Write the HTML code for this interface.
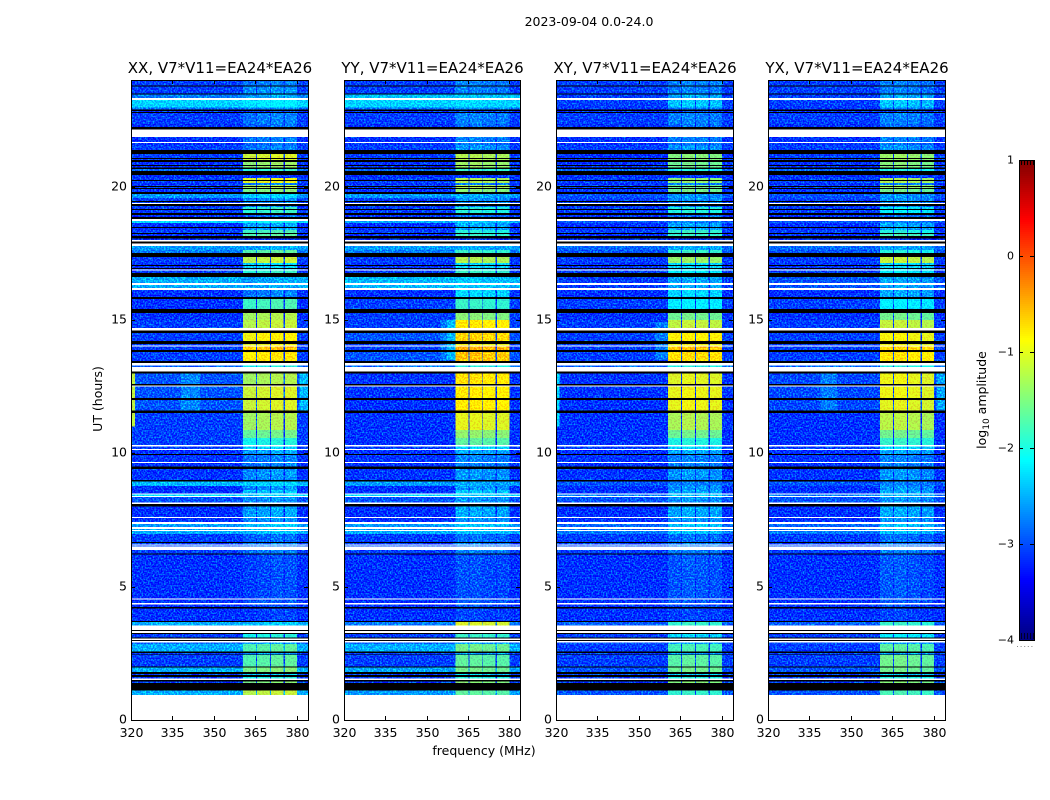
<!DOCTYPE html>
<html lang="en">
<head>
<meta charset="utf-8">
<title>2023-09-04 0.0-24.0</title>
<style>
html,body{margin:0;padding:0;background:#fff;width:1050px;height:800px;overflow:hidden}
svg{display:block;font-family:"DejaVu Sans","Liberation Sans",sans-serif;fill:#000}
text{font-size:12.5px}
</style>
</head>
<body>
<svg id="figure" xmlns="http://www.w3.org/2000/svg" width="1050" height="800" viewBox="0 0 1050 800">
<defs>
<filter id="speckle" x="0" y="0" width="100%" height="100%" color-interpolation-filters="sRGB">
<feColorMatrix in="SourceGraphic" type="matrix" values="1 0 0 0 0  0 1 0 0 -0.17  0 0 1 0 0  0 0 0 1 0" result="s"/>
<feTurbulence type="fractalNoise" baseFrequency="0.62 0.62" numOctaves="1" seed="7" result="n"/>
<feColorMatrix in="n" type="matrix" values="0 0 0 0 0  3 0 0 0 -1.2  0 0 0 0 0  0 0 0 0 1" result="g"/>
<feComposite in="s" in2="g" operator="arithmetic" k1="0" k2="1" k3="0.6" k4="0"/>
</filter>
</defs>
<rect x="0" y="0" width="1050" height="800" fill="#fff"/>
<text x="589" y="26" text-anchor="middle">2023-09-04 0.0-24.0</text>
<text x="484" y="755" text-anchor="middle">frequency (MHz)</text>
<text transform="translate(102,399) rotate(-90)" text-anchor="middle">UT (hours)</text>
<text transform="translate(986,400) rotate(-90)" text-anchor="middle">log<tspan font-size="9" dy="3">10</tspan><tspan dy="-3"> amplitude</tspan></text>
<g id="panels"></g>
<g id="colorbar"></g>
</svg>
<script>
// ---- Chart data ----
const panelNames = ["XX", "YY", "XY", "YX"];
const panelSubtitle = "V7*V11=EA24*EA26";
const xTickValues = [320, 335, 350, 365, 380];
const yTickValues = [0, 5, 10, 15, 20];
const colorbarTicks = [1, 0, -1, -2, -3, -4];
const dataEndHour = 0.94;

// time rows: start (upper) hour and state: D=data, K=black gap, W=white gap
const rowStartHours = [
24.00,23.79,23.76,23.49,23.46,23.33,23.25,22.97,22.89,22.84,
22.80,22.76,22.35,22.24,22.14,21.86,21.68,21.64,21.56,21.38,
21.23,21.00,20.93,20.72,20.66,20.59,20.44,20.33,20.14,20.06,
19.95,19.91,19.80,19.73,19.58,19.39,19.35,19.28,19.24,19.01,
18.94,18.86,18.79,18.71,18.64,18.38,18.26,18.23,18.11,18.06,
18.00,17.94,17.87,17.78,17.63,17.51,17.36,17.14,17.06,17.03,
16.89,16.86,16.76,16.61,16.39,16.31,16.20,16.13,15.86,15.79,
15.41,15.26,15.00,14.70,14.61,14.51,14.21,14.10,14.04,14.00,
13.88,13.80,13.46,13.39,13.29,13.24,13.07,12.99,12.60,12.54,
12.50,12.08,12.00,11.60,11.51,10.88,10.58,10.31,10.25,10.16,
10.13,9.98,9.94,9.68,9.63,9.50,9.42,9.00,8.94,8.78,
8.63,8.49,8.45,8.40,8.36,8.15,8.10,8.00,7.62,7.58,
7.43,7.35,7.24,7.17,7.13,7.08,6.98,6.68,6.63,6.59,
6.54,6.50,6.38,6.25,6.20,4.56,4.52,4.38,4.34,4.23,
4.18,3.71,3.68,3.55,3.38,3.33,3.27,3.23,3.10,3.05,
3.00,2.96,2.90,2.85,2.56,2.52,2.46,2.43,2.00,1.96,
1.80,1.73,1.68,1.62,1.55,1.50,1.44,1.39,1.10];
const rowStates = [
"D","K","D","K","D","W","D","D","K","D",
"K","D","D","K","W","D","W","D","D","K",
"D","K","D","K","D","K","D","D","D","D",
"K","D","K","D","D","W","K","D","D","K",
"D","K","W","D","D","D","K","D","K","D",
"W","K","W","D","D","K","D","D","K","D",
"W","D","K","D","W","D","W","D","K","D",
"K","D","D","W","K","D","K","D","W","D",
"K","D","K","W","D","W","K","D","K","W",
"D","K","D","K","D","D","D","W","D","W",
"D","K","D","W","D","K","D","K","D","D",
"D","W","D","W","D","W","K","D","W","D",
"W","D","W","D","W","D","D","K","D","W",
"D","W","D","K","D","W","D","W","D","K",
"D","K","D","W","K","W","K","D","K","W",
"K","W","D","D","K","D","K","D","K","D",
"K","D","K","D","W","K","D","K","D"];
// thin (one-integration) flagged lines, hours
const thinGapHours = [21.08, 20.81, 20.25, 20.03, 19.46, 19.16, 18.49, 18.15, 16.95];

// log10 amplitude per data row (D rows only, top to bottom)
const xxBackground = [
-3.1,-3.1,-2.8,-2.35,-2.9,-3.3,-3.1,-3.4,-3.2,-3.3,
-3.1,-3.1,-3.2,-2.9,-3.2,-3.1,-3.3,-3.1,-3.2,-2.65,
-3.1,-3.2,-3.1,-3.2,-2.3,-3.2,-3.1,-3.2,-3.3,-2.65,
-2.8,-3.1,-3.3,-3.2,-3.1,-2.55,-2.55,-3.2,-3.2,-3.2,
-3.1,-3.1,-3.1,-3.1,-3.1,-2.9,-3.0,-3.0,-3.0,-3.1,
-3.1,-3.1,-3.1,-3.2,-3.15,-3.2,-3.15,-2.5,-3.2,-3.2,
-2.3,-3.0,-3.2,-3.2,-2.65,-2.65,-2.55,-3.1,-3.1,-3.0,
-3.1,-3.25,-3.2,-3.2,-3.2,-2.55,-3.1,-2.9,-2.55,-3.1,
-3.1,-2.55,-3.1,-3.1,-3.1,-2.55];
const xxBandLevel = [
-2.8,-2.7,-2.6,-2.2,-2.7,-3.1,-2.8,-2.9,-2.8,-2.9,
-2.8,-1.1,-1.4,-1.9,-3.2,-1.0,-2.8,-1.3,-1.5,-2.35,
-2.7,-2.8,-1.9,-2.9,-2.1,-2.6,-1.8,-1.7,-3.2,-2.6,
-1.7,-1.2,-2.35,-2.35,-1.9,-2.6,-2.6,-2.8,-1.8,-1.3,
-1.2,-0.9,-1.0,-0.6,-0.8,-2.0,-1.3,-1.1,-1.1,-1.3,
-1.6,-2.0,-2.35,-2.6,-2.8,-2.8,-2.7,-2.35,-2.7,-2.45,
-2.35,-2.7,-2.6,-2.7,-2.45,-2.45,-2.45,-2.9,-2.8,-2.8,
-2.8,-3.05,-3.0,-3.05,-3.1,-2.45,-2.0,-2.6,-1.7,-2.6,
-1.7,-1.5,-2.35,-2.0,-1.5,-1.2];
const yyBackground = [
-3.1,-3.1,-2.45,-2.35,-2.9,-3.3,-3.1,-3.4,-3.2,-3.3,
-3.1,-3.1,-3.2,-2.9,-3.2,-3.1,-3.3,-3.1,-3.2,-2.65,
-3.1,-3.2,-3.1,-3.2,-2.55,-3.2,-3.1,-3.2,-3.3,-2.65,
-2.8,-3.1,-3.3,-3.2,-3.1,-2.5,-2.5,-3.2,-3.1,-3.1,
-3.1,-3.0,-3.1,-3.1,-3.0,-2.9,-3.15,-3.15,-3.2,-3.2,
-3.2,-3.2,-3.1,-3.2,-3.15,-3.2,-3.15,-2.65,-3.2,-3.2,
-2.3,-3.0,-3.2,-3.2,-2.65,-2.65,-2.55,-3.1,-3.1,-3.0,
-3.1,-3.25,-3.2,-3.2,-3.2,-2.8,-3.1,-2.9,-2.55,-3.1,
-3.1,-2.6,-3.1,-3.1,-3.1,-2.65];
const yyBandLevel = [
-2.8,-2.8,-2.45,-2.35,-2.7,-3.1,-2.8,-2.9,-2.8,-2.9,
-2.7,-1.3,-1.4,-1.9,-3.2,-1.3,-2.8,-1.3,-1.5,-2.6,
-2.7,-2.8,-2.0,-2.9,-2.45,-2.6,-2.0,-1.9,-3.2,-2.6,
-1.9,-1.3,-2.35,-2.35,-1.9,-2.45,-2.45,-2.35,-1.9,-1.5,
-0.85,-0.7,-1.0,-0.5,-0.6,-2.0,-0.8,-0.85,-0.85,-1.05,
-1.45,-1.7,-2.35,-2.6,-2.8,-2.8,-2.7,-2.6,-2.7,-2.45,
-2.35,-2.7,-2.6,-2.7,-2.45,-2.45,-2.45,-2.9,-2.8,-2.8,
-2.8,-3.05,-3.0,-3.05,-3.1,-1.1,-1.9,-2.6,-1.6,-2.6,
-1.7,-1.6,-2.35,-2.0,-1.5,-1.7];
const xyBackground = [
-3.1,-3.1,-3.1,-3.1,-3.2,-3.3,-3.1,-3.4,-3.2,-3.3,
-3.1,-3.2,-3.2,-2.9,-3.2,-3.1,-3.3,-3.1,-3.2,-3.0,
-3.1,-3.2,-3.1,-3.2,-3.0,-3.2,-3.1,-3.2,-3.3,-2.9,
-3.0,-3.1,-3.3,-3.2,-3.1,-3.1,-3.1,-3.2,-3.1,-3.2,
-3.1,-3.1,-3.1,-3.1,-3.1,-2.9,-3.15,-3.15,-3.2,-3.25,
-3.25,-3.25,-3.1,-3.2,-3.15,-3.2,-3.15,-3.0,-3.2,-3.2,
-2.8,-3.0,-3.2,-3.2,-2.9,-2.9,-2.8,-3.1,-3.1,-3.0,
-3.1,-3.25,-3.2,-3.2,-3.2,-2.95,-3.1,-3.0,-3.1,-3.1,
-3.1,-3.0,-3.1,-3.1,-3.1,-3.0];
const xyBandLevel = [
-2.8,-2.8,-2.6,-2.45,-2.8,-3.1,-2.8,-2.9,-2.8,-2.9,
-2.7,-1.5,-1.6,-2.0,-3.2,-1.45,-2.8,-1.6,-1.6,-2.7,
-2.7,-2.8,-2.0,-2.9,-2.8,-2.6,-1.9,-1.9,-3.2,-2.6,
-1.9,-1.4,-2.35,-2.35,-2.2,-2.6,-2.6,-2.35,-2.2,-1.6,
-1.2,-0.9,-1.0,-0.6,-0.75,-2.0,-1.05,-1.0,-1.0,-1.3,
-1.6,-2.0,-2.35,-2.6,-2.8,-2.8,-2.7,-2.8,-2.7,-2.6,
-2.45,-2.7,-2.6,-2.7,-2.45,-2.45,-2.45,-2.9,-2.8,-2.8,
-2.8,-3.0,-3.0,-3.05,-3.1,-1.9,-2.35,-2.6,-1.8,-2.6,
-1.7,-1.6,-2.35,-2.0,-1.5,-1.9];
const yxBackground = [
-3.1,-3.1,-3.1,-3.1,-3.2,-3.3,-3.1,-3.4,-3.2,-3.3,
-3.1,-3.1,-3.2,-2.9,-3.2,-3.1,-3.3,-3.1,-3.2,-3.0,
-3.1,-3.2,-3.1,-3.2,-3.0,-3.2,-3.1,-3.2,-3.3,-2.9,
-3.0,-3.1,-3.3,-3.2,-3.1,-3.0,-3.0,-3.2,-3.1,-3.2,
-3.1,-3.1,-3.1,-3.1,-3.1,-2.9,-3.05,-3.05,-3.05,-3.2,
-3.2,-3.2,-3.1,-3.2,-3.15,-3.2,-3.15,-3.0,-3.2,-3.2,
-2.8,-3.0,-3.2,-3.2,-2.9,-2.9,-2.8,-3.1,-3.1,-3.0,
-3.1,-3.25,-3.2,-3.2,-3.2,-2.95,-3.1,-3.0,-3.1,-3.1,
-3.1,-3.0,-3.1,-3.1,-3.1,-3.0];
const yxBandLevel = [
-2.8,-2.8,-2.6,-2.45,-2.8,-3.1,-2.8,-2.9,-2.8,-2.9,
-2.7,-1.4,-1.5,-2.0,-3.2,-1.3,-2.8,-1.4,-1.6,-2.7,
-2.7,-2.8,-2.2,-2.9,-2.8,-2.6,-2.0,-1.8,-3.2,-2.6,
-2.0,-1.2,-2.35,-2.35,-2.2,-2.6,-2.6,-2.6,-2.2,-1.6,
-1.2,-0.95,-1.0,-0.7,-0.8,-2.0,-1.0,-1.0,-1.05,-1.25,
-1.6,-1.9,-2.35,-2.6,-2.8,-2.8,-2.7,-2.8,-2.7,-2.6,
-2.45,-2.7,-2.6,-2.7,-2.45,-2.45,-2.45,-2.9,-2.8,-2.8,
-2.8,-3.0,-3.0,-3.05,-3.1,-1.9,-2.2,-2.6,-1.7,-2.6,
-1.6,-1.6,-2.35,-2.0,-1.5,-1.8];

// receiver sub-bands in MHz and per-panel level offsets
const bandStartMHz = [360.5, 365.6, 370.6, 375.6];
const bandEndMHz = [365.2, 370.3, 375.1, 380.1];
const xxBandOffsets = [-0.05, 0, 0.05, 0.05];
const yyBandOffsets = [0.05, 0.05, 0, 0];
const xyBandOffsets = [0, 0.05, 0.03, 0];
const yxBandOffsets = [0.03, 0.05, 0, -0.05];

// localised features: start MHz, end MHz, top hour, bottom hour, level
const xxPatchStartMHz = [320.3, 338, 381];
const xxPatchEndMHz = [321.5, 345, 384];
const xxPatchTopHour = [13, 13, 13];
const xxPatchBottomHour = [11, 11.6, 11.6];
const xxPatchLevel = [-1.2, -2.75, -2.5];
const yyPatchStartMHz = [355, 357.5];
const yyPatchEndMHz = [360.5, 360.5];
const yyPatchTopHour = [15, 15];
const yyPatchBottomHour = [13.5, 13.5];
const yyPatchLevel = [-2.8, -2.5];
const xyPatchStartMHz = [320.2, 356];
const xyPatchEndMHz = [321.2, 360.5];
const xyPatchTopHour = [13, 14.9];
const xyPatchBottomHour = [11, 13.5];
const xyPatchLevel = [-2.3, -2.8];
const yxPatchStartMHz = [339, 381];
const yxPatchEndMHz = [345, 384];
const yxPatchTopHour = [13, 13];
const yxPatchBottomHour = [11.6, 11.6];
const yxPatchLevel = [-2.8, -2.6];

// ---- Rendering ----
const SVGNS = "http://www.w3.org/2000/svg";
const axTop = 80, axBottom = 720;
const panelLeft = [131, 344, 556, 768];
const panelRight = [308, 520, 733, 945];
const fMin = 320, fMax = 384, hMin = 0, hMax = 24;
const panelBg = [xxBackground, yyBackground, xyBackground, yxBackground];
const panelBand = [xxBandLevel, yyBandLevel, xyBandLevel, yxBandLevel];
const panelOffs = [xxBandOffsets, yyBandOffsets, xyBandOffsets, yxBandOffsets];
const patchStart = [xxPatchStartMHz, yyPatchStartMHz, xyPatchStartMHz, yxPatchStartMHz];
const patchEnd = [xxPatchEndMHz, yyPatchEndMHz, xyPatchEndMHz, yxPatchEndMHz];
const patchTop = [xxPatchTopHour, yyPatchTopHour, xyPatchTopHour, yxPatchTopHour];
const patchBottom = [xxPatchBottomHour, yyPatchBottomHour, xyPatchBottomHour, yxPatchBottomHour];
const patchLevel = [xxPatchLevel, yyPatchLevel, xyPatchLevel, yxPatchLevel];

function yScale(h) { return axBottom - (h - hMin) / (hMax - hMin) * (axBottom - axTop); }
function xScale(p, f) { return panelLeft[p] + (f - fMin) / (fMax - fMin) * (panelRight[p] - panelLeft[p]); }
function cbY(v) { return 160 + (1 - v) / 5 * 480; }

function clamp01(v) { return Math.max(0, Math.min(1, v)); }
function jet(v) {
  const t = clamp01((v + 4) / 5);
  const r = clamp01(Math.min(4 * t - 1.5, -4 * t + 4.5));
  const g = clamp01(Math.min(4 * t - 0.5, -4 * t + 3.5));
  const b = clamp01(Math.min(4 * t + 0.5, -4 * t + 2.5));
  return "rgb(" + Math.round(r * 255) + "," + Math.round(g * 255) + "," + Math.round(b * 255) + ")";
}
function make(tag, attrs, parent) {
  const el = document.createElementNS(SVGNS, tag);
  for (const k in attrs) el.setAttribute(k, attrs[k]);
  parent.appendChild(el);
  return el;
}
function rowBottom(i) { return i + 1 < rowStartHours.length ? rowStartHours[i + 1] : dataEndHour; }

const panelsRoot = document.getElementById("panels");
panelNames.forEach(function (name, p) {
  const L = panelLeft[p], R = panelRight[p];
  const g = make("g", {}, panelsRoot);
  
  

  const title = make("text", { x: (L + R) / 2 + 0.5, y: 73, "text-anchor": "middle" }, g);
  
  
  title.style.fontSize = "15px";
  title.textContent = name + ", " + panelSubtitle;

  const cells = make("g", { "shape-rendering": "crispEdges", filter: "url(#speckle)" }, g);
  
  
  const gaps = make("g", { "shape-rendering": "crispEdges" }, g);
  
  

  let d = 0;
  rowStates.forEach(function (state, i) {
    const y0 = yScale(rowStartHours[i]), y1 = yScale(rowBottom(i));
    const x0 = L + 0.5, w = R - L - 0.5;
    if (state === "D") {
      const bg = make("rect", { x: x0, y: y0, width: w, height: y1 - y0, fill: jet(panelBg[p][d]) }, cells);
      
      
      bandStartMHz.forEach(function (fs, b) {
        const xa = xScale(p, fs), xb = xScale(p, bandEndMHz[b]);
        const c = make("rect", { x: xa, y: y0, width: xb - xa, height: y1 - y0, fill: jet(panelBand[p][d] + panelOffs[p][b]) }, cells);
        
        
      });
      d++;
    } else {
      const m = make("rect", { x: x0, y: y0, width: w, height: y1 - y0, fill: state === "K" ? "#000" : "#fff" }, gaps);
      
      
    }
  });

  thinGapHours.forEach(function (h) {
    const t = make("rect", { x: L + 0.5, y: yScale(h), width: R - L - 0.5, height: 1, fill: "#000" }, gaps);
    
    
  });

  patchStart[p].forEach(function (fs, k) {
    const xa = xScale(p, fs), xb = xScale(p, patchEnd[p][k]);
    const ya = yScale(patchTop[p][k]), yb = yScale(patchBottom[p][k]);
    const pr = document.createElementNS(SVGNS, "rect");
    pr.setAttribute("x", xa);
    pr.setAttribute("y", ya);
    pr.setAttribute("width", xb - xa);
    pr.setAttribute("height", yb - ya);
    pr.setAttribute("fill", jet(patchLevel[p][k]));
    
    
    cells.appendChild(pr);
  });

  const frame = make("rect", { x: L + 0.5, y: axTop + 0.5, width: R - L, height: axBottom - axTop, fill: "none", stroke: "#000", "stroke-width": 1, "shape-rendering": "crispEdges" }, g);
  
  

  xTickValues.forEach(function (f) {
    const x = Math.round(xScale(p, f)) + 0.5;
    const t1 = make("line", { x1: x, x2: x, y1: axBottom, y2: axBottom - 4, stroke: "#000" }, g);
    
    
    const t2 = make("line", { x1: x, x2: x, y1: axTop, y2: axTop + 4, stroke: "#000" }, g);
    
    
    const lab = make("text", { x: x, y: 737, "text-anchor": "middle" }, g);
    
    
    lab.textContent = f;
  });
  yTickValues.forEach(function (h) {
    const y = Math.round(yScale(h)) + 0.5;
    const t1 = make("line", { x1: L, x2: L + 4, y1: y, y2: y, stroke: "#000" }, g);
    
    
    const t2 = make("line", { x1: R, x2: R - 4, y1: y, y2: y, stroke: "#000" }, g);
    
    
    const lab = make("text", { x: L - 4, y: y + 3, "text-anchor": "end" }, g);
    
    
    lab.textContent = h;
  });
});

// colorbar
const cb = document.getElementById("colorbar");
const cbL = 1019, cbR = 1034;
for (let yy = 160; yy < 640; yy += 2) {
  const v = 1 - (yy + 1 - 160) / 480 * 5;
  const s = make("rect", { x: cbL, y: yy, width: cbR - cbL, height: 2, fill: jet(v), "shape-rendering": "crispEdges" }, cb);
  
  
}
const cbFrame = make("rect", { x: cbL + 0.5, y: 160.5, width: cbR - cbL, height: 480, fill: "none", stroke: "#000", "shape-rendering": "crispEdges" }, cb);


colorbarTicks.forEach(function (v) {
  const y = Math.round(cbY(v)) + 0.5;
  const a = make("line", { x1: cbL, x2: cbL + 4, y1: y, y2: y, stroke: "#000" }, cb);
  
  
  const b = make("line", { x1: cbR, x2: cbR - 4, y1: y, y2: y, stroke: "#000" }, cb);
  
  
  const lab = make("text", { x: 1014, y: y + 3, "text-anchor": "end" }, cb);
  
  
  lab.style.fontSize = "11px";
  lab.textContent = v < 0 ? "\u2212" + Math.abs(v) : String(v);
});
[1021, 1024, 1027, 1030, 1033].forEach(function (x) {
  const top = make("line", { x1: x + 0.5, x2: x + 0.5, y1: 161, y2: 165, stroke: "#000" }, cb);
  
  
  const bot = make("line", { x1: x + 0.5, x2: x + 0.5, y1: 639, y2: 633, stroke: "#000", "stroke-opacity": 0.7 }, cb);
  
  
});
const dots = make("line", { x1: 1017, x2: 1035, y1: 646.5, y2: 646.5, stroke: "#888", "stroke-dasharray": "1 2.6" }, cb);


</script>
</body>
</html>
